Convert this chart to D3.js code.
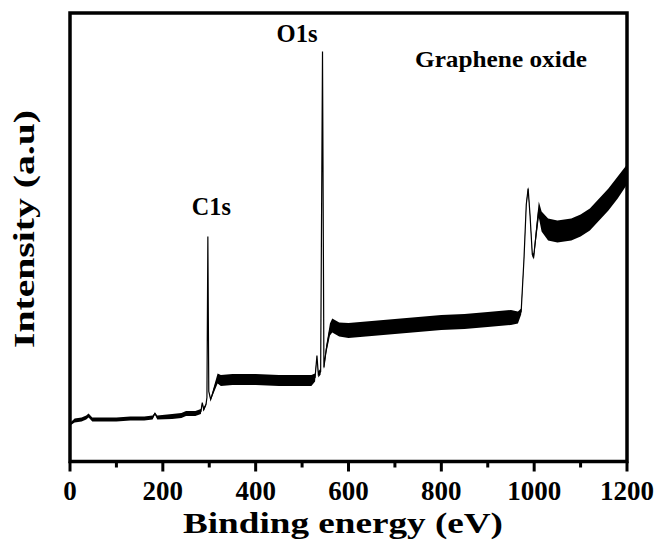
<!DOCTYPE html>
<html>
<head>
<meta charset="utf-8">
<script src="https://cdn.jsdelivr.net/npm/d3@7"></script>
<style>
  html, body { margin: 0; padding: 0; background: #fff; }
  svg { display: block; }
  text { font-family: "Liberation Serif", "Times New Roman", serif; font-weight: bold; fill: #000; }
</style>
</head>
<body>
<svg id="chart" width="670" height="542"></svg>
<script>
// ---- data ----
const energy = [2, 10, 25, 35, 40, 48, 70, 100, 130, 160, 178, 183, 188, 220, 240, 250, 270, 282, 285, 288, 293, 295, 297, 299, 303, 310, 318, 325, 350, 400, 450, 500, 520, 528, 532, 535, 540, 544, 547, 552, 560, 565, 580, 600, 650, 700, 750, 800, 850, 900, 950, 965, 972, 978, 983, 987, 991, 996, 999, 1004, 1010, 1016, 1030, 1050, 1080, 1100, 1120, 1140, 1160, 1180, 1200];
const intensity = [38, 41, 42, 44, 46, 42, 42, 42, 43, 43, 44, 48, 44, 45, 46, 48, 48, 50, 59, 52, 57, 64, 225, 70, 62, 72, 83, 81, 82, 82, 81, 81, 81, 84, 106, 87, 90, 410, 94, 112, 132, 136, 132, 131, 133, 135, 137, 139, 140, 142, 144, 144, 150, 202, 257, 273, 247, 207, 205, 227, 252, 240, 232, 230, 232, 236, 242, 252, 262, 274, 287];
const spread = [1.5, 2, 2, 2, 2, 2, 2, 2, 2, 2, 2, 1, 2, 2.5, 2.5, 2.5, 2.5, 2.5, 0, 2, 1, 0, 0, 0, 1, 3, 5, 5.5, 5.5, 5.5, 5.5, 5.5, 5.5, 4, 0, 3, 3, 0, 2, 4, 6, 7, 7, 7.5, 7.5, 7.5, 7.5, 7.5, 7.5, 7.5, 7.5, 6, 3, 2, 2, 2, 2, 2, 3, 6, 8, 10, 11, 11, 11, 11, 11, 11, 11, 11, 10];
const xTicks = [0, 200, 400, 600, 800, 1000, 1200];
const xMinorTicks = [100, 300, 500, 700, 900, 1100];
const peakLabels = ["C1s", "O1s"];
const peakEnergy = [297, 544];
const sampleLabel = "Graphene oxide";
const xTitle = "Binding energy (eV)";
const yTitle = "Intensity (a.u)";

// ---- layout ----
const svg = d3.select("#chart");
const L = 70, R = 627, T = 13, B = 461.5;
const x = d3.scaleLinear().domain([0, 1200]).range([L, R]);
const y = d3.scaleLinear().domain([0, 448.5]).range([B, T]);

const pts = energy.map((e, i) => ({ e, v: intensity[i], s: spread[i] }));

// noisy band
svg.append("path")
  .datum(pts)
  .attr("d", d3.area().x(d => x(d.e)).y0(d => y(d.v - d.s)).y1(d => y(d.v + d.s)))
  .attr("fill", "#000");

// spectrum line
svg.append("path")
  .datum(pts)
  .attr("d", d3.line().x(d => x(d.e)).y(d => y(d.v)))
  .attr("fill", "none")
  .attr("stroke", "#000")
  .attr("stroke-width", 1.2);

// x axis ticks
const xAxis = svg.append("g").attr("transform", `translate(0,${B})`);
xAxis.selectAll("line.major").data(xTicks).join("line")
  .attr("x1", d => x(d)).attr("x2", d => x(d))
  .attr("y1", 0).attr("y2", 10)
  .attr("stroke", "#000").attr("stroke-width", 3);
xAxis.selectAll("line.minor").data(xMinorTicks).join("line")
  .attr("x1", d => x(d)).attr("x2", d => x(d))
  .attr("y1", 0).attr("y2", 6)
  .attr("stroke", "#000").attr("stroke-width", 3);
xAxis.selectAll("text").data(xTicks).join("text")
  .attr("x", d => x(d)).attr("y", 38)
  .attr("text-anchor", "middle")
  .attr("font-size", 27)
  .text(d => d);

// frame
svg.append("rect")
  .attr("x", L).attr("y", T).attr("width", R - L).attr("height", B - T)
  .attr("fill", "none").attr("stroke", "#000").attr("stroke-width", 3.5);

// axis titles
svg.append("text")
  .attr("x", 343).attr("y", 532.5)
  .attr("text-anchor", "middle")
  .attr("font-size", 30)
  .attr("textLength", 320).attr("lengthAdjust", "spacingAndGlyphs")
  .text(xTitle);
svg.append("text")
  .attr("transform", "translate(34,229) rotate(-90)")
  .attr("text-anchor", "middle")
  .attr("font-size", 30)
  .attr("textLength", 238).attr("lengthAdjust", "spacingAndGlyphs")
  .text(yTitle);

// peak labels
const peakLabelPos = [{ dx: -16, dy: -22, w: 39 }, { dx: -46, dy: -10, w: 41 }];
peakLabels.forEach((lab, i) => {
  const idx = energy.indexOf(peakEnergy[i]);
  svg.append("text")
    .attr("x", x(peakEnergy[i]) + peakLabelPos[i].dx)
    .attr("y", y(intensity[idx]) + peakLabelPos[i].dy)
    .attr("font-size", 25)
    .attr("textLength", peakLabelPos[i].w).attr("lengthAdjust", "spacingAndGlyphs")
    .text(lab);
});

// sample label
svg.append("text")
  .attr("x", 415).attr("y", 67)
  .attr("font-size", 24)
  .attr("textLength", 172).attr("lengthAdjust", "spacingAndGlyphs")
  .text(sampleLabel);
</script>
</body>
</html>
